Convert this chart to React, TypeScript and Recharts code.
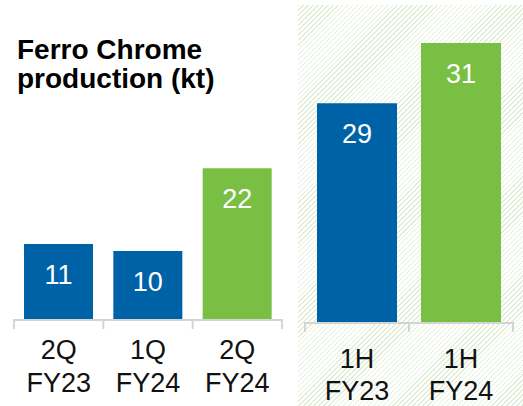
import React from 'react';
import { BarChart, Bar, XAxis, YAxis, Cell, LabelList } from 'recharts';

// ---- data ----
const titleLines = ['Ferro Chrome', 'production (kt)'];
const quarterCategories = ['2Q FY23', '1Q FY24', '2Q FY24'];
const quarterValues = [11, 10, 22];
const halfCategories = ['1H FY23', '1H FY24'];
const halfValues = [29, 31];

// ---- styles ----
const BLUE = '#0062a6';
const GREEN = '#78bf44';
const quarterColors = [BLUE, BLUE, GREEN];
const halfColors = [BLUE, GREEN];
const AXIS = '#d4d4d4';
const FONT = '"Liberation Sans", Arial, Helvetica, sans-serif';

const quarterData = quarterCategories.map((c, i) => ({ name: c, value: quarterValues[i] }));
const halfData = halfCategories.map((c, i) => ({ name: c, value: halfValues[i] }));

// layout
const LEFT = { w: 300, h: 406, top: 44, left: 14, right: 18, axisH: 86 };
const RIGHT = { x: 290, w: 233, h: 406, top: 10, left: 15, right: 10, axisH: 83 };

const makeTick = (band: number, count: number, dy1: number, dy2: number, tickLen: number) => (props: any) => {
  const { x, y, payload, index } = props;
  const parts = String(payload.value).split(' ');
  return (
    <g>
      <line x1={x - band / 2} x2={x - band / 2} y1={y - 1} y2={y + tickLen} stroke={AXIS} strokeWidth={2} />
      {index === count - 1 && (
        <line x1={x + band / 2} x2={x + band / 2} y1={y - 1} y2={y + tickLen} stroke={AXIS} strokeWidth={2} />
      )}
      <text x={x} y={y + dy1} textAnchor="middle" fontSize={27} fontFamily={FONT} fill="#111">
        {parts[0]}
      </text>
      <text x={x} y={y + dy2} textAnchor="middle" fontSize={27} fontFamily={FONT} fill="#111">
        {parts[1]}
      </text>
    </g>
  );
};

const ValueLabel = (props: any) => {
  const { x, y, width, value } = props;
  return (
    <text x={x + width / 2} y={y + 39.5} textAnchor="middle" fontSize={27} fontFamily={FONT} fill="#fff">
      {value}
    </text>
  );
};

const leftBand = (LEFT.w - LEFT.left - LEFT.right) / quarterData.length;
const rightBand = (RIGHT.w - RIGHT.left - RIGHT.right) / halfData.length;

export default function App() {
  return (
    <div style={{ position: 'absolute', left: 0, top: 0, width: 523, height: 406, background: '#fff', overflow: 'hidden' }}>
      <div
        style={{
          position: 'absolute',
          left: 298,
          top: 5,
          width: 225,
          height: 401,
          backgroundImage:
            'repeating-linear-gradient(135deg, #dfeed5 0px, #dfeed5 1px, #ffffff 1px, #ffffff 3.5px)',
        }}
      />
      <div style={{ position: 'absolute', left: 0, top: 0 }}>
        <BarChart
          width={LEFT.w}
          height={LEFT.h}
          data={quarterData}
          margin={{ top: LEFT.top, right: LEFT.right, left: LEFT.left, bottom: 0 }}
        >
          <XAxis
            dataKey="name"
            height={LEFT.axisH}
            interval={0}
            tickLine={false}
            tickSize={0}
            tickMargin={0}
            axisLine={{ stroke: AXIS, strokeWidth: 2 }}
            tick={makeTick(leftBand, quarterData.length, 39, 72, 9)}
          />
          <YAxis hide domain={[0, 40]} allowDataOverflow />
          <Bar dataKey="value" barSize={69} isAnimationActive={false}>
            {quarterData.map((d, i) => (
              <Cell key={d.name} fill={quarterColors[i]} />
            ))}
            <LabelList dataKey="value" content={ValueLabel} />
          </Bar>
        </BarChart>
      </div>
      <div style={{ position: 'absolute', left: RIGHT.x, top: 0 }}>
        <BarChart
          width={RIGHT.w}
          height={RIGHT.h}
          data={halfData}
          margin={{ top: RIGHT.top, right: RIGHT.right, left: RIGHT.left, bottom: 0 }}
        >
          <XAxis
            dataKey="name"
            height={RIGHT.axisH}
            interval={0}
            tickLine={false}
            tickSize={0}
            tickMargin={0}
            axisLine={{ stroke: AXIS, strokeWidth: 2 }}
            tick={makeTick(rightBand, halfData.length, 45, 77, 9)}
          />
          <YAxis hide domain={[21.7, 32.1]} allowDataOverflow />
          <Bar dataKey="value" barSize={80} isAnimationActive={false}>
            {halfData.map((d, i) => (
              <Cell key={d.name} fill={halfColors[i]} />
            ))}
            <LabelList dataKey="value" content={ValueLabel} />
          </Bar>
        </BarChart>
      </div>
      <svg width={523} height={406} style={{ position: 'absolute', left: 0, top: 0, pointerEvents: 'none' }}>
        {titleLines.map((t, i) => (
          <text key={t} x={17} y={59 + i * 29} fontSize={28} fontWeight="bold" fontFamily={FONT} fill="#000">
            {t}
          </text>
        ))}
      </svg>
    </div>
  );
}
